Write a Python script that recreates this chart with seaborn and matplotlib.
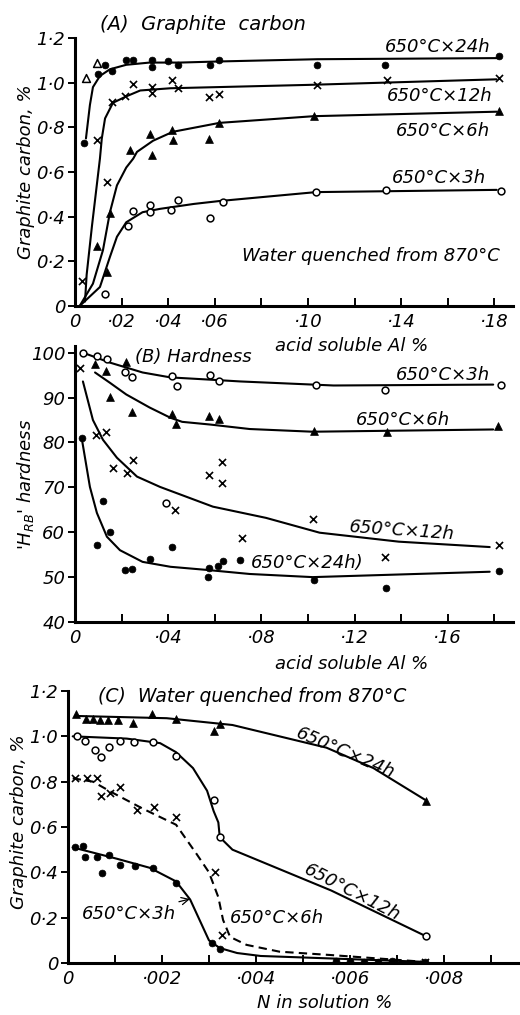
import matplotlib
matplotlib.use("Agg")
import matplotlib.pyplot as plt
import seaborn as sns

# ---------------- Panel A: graphite carbon vs acid soluble Al ----------------
a24_x = [0.004, 0.0097, 0.013, 0.016, 0.022, 0.025, 0.033, 0.033, 0.040, 0.044, 0.058, 0.062, 0.104, 0.133, 0.182]
a24_y = [0.73, 1.04, 1.077, 1.054, 1.10, 1.10, 1.10, 1.072, 1.095, 1.08, 1.08, 1.10, 1.077, 1.077, 1.118]
a24o_x = [0.0047, 0.0094]
a24o_y = [1.02, 1.086]
a12_x = [0.003, 0.0094, 0.0137, 0.0158, 0.0215, 0.0248, 0.033, 0.033, 0.0415, 0.044, 0.0576, 0.062, 0.104, 0.134, 0.182]
a12_y = [0.113, 0.742, 0.557, 0.914, 0.94, 0.995, 0.982, 0.955, 1.01, 0.977, 0.937, 0.95, 0.99, 1.01, 1.023]
a6_x = [0.0094, 0.0137, 0.015, 0.0236, 0.033, 0.032, 0.0415, 0.042, 0.0576, 0.062, 0.1026, 0.182]
a6_y = [0.267, 0.154, 0.416, 0.697, 0.674, 0.769, 0.787, 0.742, 0.747, 0.819, 0.851, 0.873]
a3_x = [0.0129, 0.0229, 0.0248, 0.032, 0.032, 0.041, 0.044, 0.058, 0.0635, 0.1035, 0.1335, 0.1828]
a3_y = [0.054, 0.357, 0.425, 0.452, 0.421, 0.43, 0.475, 0.394, 0.466, 0.511, 0.52, 0.516]

a24_cx = [0.0047, 0.0064, 0.0077, 0.0107, 0.015, 0.022, 0.032, 0.045, 0.062, 0.104, 0.182]
a24_cy = [0.75, 0.90, 0.98, 1.03, 1.06, 1.08, 1.09, 1.09, 1.095, 1.105, 1.11]
a12_cx = [0.0043, 0.005, 0.0073, 0.009, 0.0107, 0.0115, 0.0129, 0.0163, 0.0223, 0.028, 0.041, 0.10, 0.181]
a12_cy = [0.02, 0.14, 0.36, 0.51, 0.66, 0.75, 0.84, 0.91, 0.94, 0.965, 0.975, 0.99, 1.015]
a6_cx = [0.002, 0.0077, 0.012, 0.015, 0.018, 0.022, 0.025, 0.0266, 0.0335, 0.042, 0.062, 0.1026, 0.181]
a6_cy = [0.0, 0.10, 0.25, 0.42, 0.54, 0.62, 0.66, 0.69, 0.74, 0.78, 0.82, 0.85, 0.87]
a3_cx = [0.002, 0.0107, 0.015, 0.018, 0.022, 0.029, 0.0365, 0.051, 0.062, 0.1035, 0.181]
a3_cy = [0.0, 0.085, 0.22, 0.31, 0.375, 0.42, 0.435, 0.457, 0.47, 0.51, 0.52]

a_xticks = [0, 0.02, 0.04, 0.06, 0.08, 0.10, 0.12, 0.14, 0.16, 0.18]
a_xticklabels = ["0", "·02", "·04", "·06", "", "·10", "", "·14", "", "·18"]
c_yticks = [0, 0.2, 0.4, 0.6, 0.8, 1.0, 1.2]
c_yticklabels = ["0", "0·2", "0·4", "0·6", "0·8", "1·0", "1·2"]

# ---------------- Panel B: hardness vs acid soluble Al ----------------
b3_x = [0.0035, 0.0094, 0.0137, 0.0215, 0.0245, 0.0415, 0.0437, 0.058, 0.062, 0.1035, 0.133, 0.183, 0.039]
b3_y = [100.0, 99.2, 98.5, 95.6, 94.7, 94.9, 92.5, 95.1, 93.8, 92.7, 91.8, 92.9, 66.5]
b6_x = [0.0086, 0.0133, 0.022, 0.015, 0.0245, 0.0415, 0.0433, 0.0576, 0.062, 0.1026, 0.134, 0.1815]
b6_y = [97.4, 96.0, 98.0, 90.2, 86.7, 86.4, 84.2, 86.0, 85.3, 82.6, 82.4, 83.7]
b12_x = [0.0021, 0.009, 0.0133, 0.0163, 0.0223, 0.0249, 0.0576, 0.063, 0.063, 0.043, 0.0715, 0.102, 0.133, 0.182]
b12_y = [96.7, 81.7, 82.4, 74.4, 73.3, 76.2, 72.8, 71.0, 75.7, 65.0, 58.8, 63.0, 54.5, 57.2]
b24_x = [0.0028, 0.0093, 0.012, 0.015, 0.0215, 0.0244, 0.032, 0.0415, 0.057, 0.0576, 0.0615, 0.0636, 0.071, 0.1026, 0.1335, 0.182]
b24_y = [81.0, 57.2, 67.0, 60.0, 51.6, 51.8, 54.0, 56.7, 50.0, 52.0, 52.5, 53.6, 53.8, 49.4, 47.6, 51.4]

b3_cx = [0.0035, 0.015, 0.029, 0.041, 0.058, 0.071, 0.111, 0.1795]
b3_cy = [100.0, 97.8, 95.6, 94.5, 94.0, 93.6, 92.7, 92.9]
b6_cx = [0.0086, 0.015, 0.022, 0.032, 0.041, 0.046, 0.058, 0.075, 0.102, 0.1795]
b6_cy = [95.6, 93.3, 90.7, 87.8, 85.5, 84.6, 84.0, 83.0, 82.4, 82.9]
b12_cx = [0.0034, 0.0077, 0.012, 0.018, 0.0266, 0.0365, 0.0592, 0.082, 0.105, 0.139, 0.178]
b12_cy = [93.6, 85.0, 80.6, 76.6, 72.4, 70.1, 65.7, 63.2, 59.9, 57.9, 56.7]
b24_cx = [0.003, 0.0064, 0.0094, 0.0137, 0.0193, 0.029, 0.041, 0.0567, 0.075, 0.102, 0.178]
b24_cy = [80.6, 70.1, 64.3, 59.0, 56.0, 53.4, 52.3, 51.6, 50.7, 50.0, 51.2]

b_xticks = [0, 0.02, 0.04, 0.06, 0.08, 0.10, 0.12, 0.14, 0.16, 0.18]
b_xticklabels = ["0", "", "·04", "", "·08", "", "·12", "", "·16", ""]
b_yticks = [40, 50, 60, 70, 80, 90, 100]
b_yticklabels = ["40", "50", "60", "70", "80", "90", "100"]

# ---------------- Panel C: graphite carbon vs N in solution ----------------
c24_x = [0.00017, 0.00038, 0.00053, 0.00068, 0.00086, 0.00107, 0.00139, 0.00178, 0.0023, 0.0031, 0.00323, 0.00762]
c24_y = [1.10, 1.075, 1.075, 1.07, 1.07, 1.07, 1.057, 1.10, 1.075, 1.022, 1.053, 0.714]
c12_x = [0.0002, 0.00036, 0.00057, 0.00070, 0.00088, 0.0011, 0.0014, 0.0018, 0.0023, 0.0031, 0.00323, 0.00762]
c12_y = [1.0, 0.98, 0.94, 0.91, 0.955, 0.98, 0.975, 0.975, 0.915, 0.72, 0.555, 0.12]
c6_x = [0.00015, 0.0004, 0.00062, 0.0007, 0.0009, 0.0011, 0.00146, 0.00183, 0.0023, 0.00313, 0.00328, 0.0076]
c6_y = [0.815, 0.815, 0.815, 0.735, 0.75, 0.775, 0.675, 0.69, 0.645, 0.40, 0.125, 0.005]
c3_x = [0.00015, 0.00032, 0.00036, 0.00061, 0.00072, 0.00088, 0.0011, 0.00143, 0.00181, 0.0023, 0.00306, 0.00323,
        0.0057, 0.0060, 0.0063, 0.0066, 0.0069, 0.0076]
c3_y = [0.511, 0.515, 0.467, 0.467, 0.396, 0.476, 0.432, 0.427, 0.418, 0.352, 0.088, 0.062,
        0.01, 0.007, 0.005, 0.004, 0.008, 0.003]

c24_cx = [0.00015, 0.0021, 0.0035, 0.0043, 0.0055, 0.0065, 0.0076]
c24_cy = [1.09, 1.08, 1.05, 1.01, 0.95, 0.86, 0.72]
c12_cx = [0.0001, 0.00125, 0.00196, 0.0023, 0.00266, 0.00296, 0.0031, 0.0032, 0.00323, 0.0035, 0.0042, 0.0056, 0.0076]
c12_cy = [1.0, 0.99, 0.97, 0.93, 0.86, 0.76, 0.67, 0.62, 0.555, 0.50, 0.44, 0.32, 0.12]
c6_cx = [0.0001, 0.00053, 0.00096, 0.0016, 0.0023, 0.00274, 0.0030, 0.0032, 0.0033, 0.00345, 0.0038, 0.0045, 0.0056, 0.0076]
c6_cy = [0.815, 0.80, 0.75, 0.68, 0.61, 0.48, 0.40, 0.29, 0.19, 0.115, 0.08, 0.05, 0.035, 0.005]
c3_cx = [0.0001, 0.00104, 0.00174, 0.0023, 0.0026, 0.003, 0.00323, 0.0036, 0.0041, 0.0056, 0.0076]
c3_cy = [0.51, 0.46, 0.42, 0.36, 0.28, 0.10, 0.066, 0.044, 0.031, 0.02, 0.005]

c_xticks = [0, 0.001, 0.002, 0.003, 0.004, 0.005, 0.006, 0.007, 0.008, 0.009]
c_xticklabels = ["0", "", "·002", "", "·004", "", "·006", "", "·008", ""]

# ---------------- styling ----------------
sns.set_style("ticks")
plt.rcParams["font.family"] = ["DejaVu Sans"]
plt.rcParams["font.style"] = "italic"
plt.rcParams["mathtext.fontset"] = "dejavusans"
for key in ["text.color", "axes.labelcolor", "xtick.color", "ytick.color", "axes.edgecolor"]:
    plt.rcParams[key] = "black"

W, H = 520, 1015
fig = plt.figure(figsize=(W / 100, H / 100), dpi=100)
fig.patch.set_facecolor("white")


def axes_px(left, top, right, bottom):
    return fig.add_axes([left / W, 1 - bottom / H, (right - left) / W, (bottom - top) / H])


def fx(px, py):
    return px / W, 1 - py / H


LW = 1.5
FS = 13


def style_axes(ax, xticks, xlabels, yticks, ylabels):
    for s in ["top", "right"]:
        ax.spines[s].set_visible(False)
    for s in ["left", "bottom"]:
        ax.spines[s].set_linewidth(2.2)
        ax.spines[s].set_color("black")
    ax.set_xticks(xticks)
    ax.set_xticklabels(xlabels, fontsize=FS, style="italic", color="black")
    ax.set_yticks(yticks)
    ax.set_yticklabels(ylabels, fontsize=FS, style="italic", color="black")
    ax.tick_params(axis="x", direction="in", length=6, width=1.4, pad=5, colors="black")
    ax.tick_params(axis="y", direction="out", length=5, width=1.4, pad=2, colors="black")
    ax.set_facecolor("white")
    ax.set_xlabel("")
    ax.set_ylabel("")


def pts(ax, x, y, kind):
    if kind == "fc":
        sns.scatterplot(x=x, y=y, ax=ax, marker="o", s=24, color="black", edgecolor="black", linewidth=0.5, zorder=3)
    elif kind == "oc":
        sns.scatterplot(x=x, y=y, ax=ax, marker="o", s=24, color="white", edgecolor="black", linewidth=1.1, zorder=3)
    elif kind == "ft":
        sns.scatterplot(x=x, y=y, ax=ax, marker="^", s=32, color="black", edgecolor="black", linewidth=0.5, zorder=3)
    elif kind == "ot":
        sns.scatterplot(x=x, y=y, ax=ax, marker="^", s=32, color="white", edgecolor="black", linewidth=1.1, zorder=3)
    elif kind == "x":
        sns.scatterplot(x=x, y=y, ax=ax, marker="x", s=26, color="black", linewidth=1.2, zorder=3)


def curve(ax, x, y, dashed=False):
    kw = dict(x=x, y=y, ax=ax, sort=False, estimator=None, color="black", linewidth=LW, zorder=2)
    if dashed:
        sns.lineplot(**kw, linestyle=(0, (4, 2.5)))
    else:
        sns.lineplot(**kw)


# ---------------- Panel A ----------------
axA = axes_px(75, 38, 513, 306)
curve(axA, a24_cx, a24_cy)
curve(axA, a12_cx, a12_cy)
curve(axA, a6_cx, a6_cy)
curve(axA, a3_cx, a3_cy)
pts(axA, a24_x, a24_y, "fc")
pts(axA, a24o_x, a24o_y, "ot")
pts(axA, a12_x, a12_y, "x")
pts(axA, a6_x, a6_y, "ft")
pts(axA, a3_x, a3_y, "oc")
axA.set_xlim(0, 0.188)
axA.set_ylim(0, 1.2)
style_axes(axA, a_xticks, a_xticklabels, c_yticks, c_yticklabels)
axA.set_ylabel("Graphite carbon, %", fontsize=FS, color="black")
axA.yaxis.set_label_coords(-0.092, 0.5)

fig.text(*fx(100, 25), "(A)  Graphite  carbon", fontsize=14, va="center", ha="left")
fig.text(*fx(490, 47), "650°C×24h", fontsize=FS, va="center", ha="right")
fig.text(*fx(492, 96), "650°C×12h", fontsize=FS, va="center", ha="right")
fig.text(*fx(490, 131), "650°C×6h", fontsize=FS, va="center", ha="right")
fig.text(*fx(486, 178), "650°C×3h", fontsize=FS, va="center", ha="right")
fig.text(*fx(500, 256), "Water quenched from 870°C", fontsize=FS, va="center", ha="right")
fig.text(*fx(352, 346), "acid soluble Al %", fontsize=FS, va="center", ha="center")

# ---------------- Panel B ----------------
axB = axes_px(75, 346, 513, 622)
curve(axB, b3_cx, b3_cy)
curve(axB, b6_cx, b6_cy)
curve(axB, b12_cx, b12_cy)
curve(axB, b24_cx, b24_cy)
pts(axB, b3_x, b3_y, "oc")
pts(axB, b6_x, b6_y, "ft")
pts(axB, b12_x, b12_y, "x")
pts(axB, b24_x, b24_y, "fc")
axB.set_xlim(0, 0.188)
axB.set_ylim(40, 101.5)
style_axes(axB, b_xticks, b_xticklabels, b_yticks, b_yticklabels)
axB.set_ylabel("'$H_{RB}$' hardness", fontsize=FS, color="black")
axB.yaxis.set_label_coords(-0.09, 0.5)

fig.text(*fx(135, 357), "(B) Hardness", fontsize=FS, va="center", ha="left")
fig.text(*fx(490, 375), "650°C×3h", fontsize=FS, va="center", ha="right")
fig.text(*fx(450, 420), "650°C×6h", fontsize=FS, va="center", ha="right")
fig.text(*fx(455, 531), "650°C×12h", fontsize=FS, va="center", ha="right", rotation=-4)
fig.text(*fx(363, 563), "650°C×24h)", fontsize=FS, va="center", ha="right")
fig.text(*fx(352, 664), "acid soluble Al %", fontsize=FS, va="center", ha="center")

# ---------------- Panel C ----------------
axC = axes_px(68, 691, 520, 963)
curve(axC, c24_cx, c24_cy)
curve(axC, c12_cx, c12_cy)
curve(axC, c6_cx, c6_cy, dashed=True)
curve(axC, c3_cx, c3_cy)
pts(axC, c24_x, c24_y, "ft")
pts(axC, c12_x, c12_y, "oc")
pts(axC, c6_x, c6_y, "x")
pts(axC, c3_x, c3_y, "fc")
axC.set_xlim(0, 0.00962)
axC.set_ylim(0, 1.2)
style_axes(axC, c_xticks, c_xticklabels, c_yticks, c_yticklabels)
axC.set_ylabel("Graphite carbon, %", fontsize=FS, color="black")
axC.yaxis.set_label_coords(-0.088, 0.52)

fig.text(*fx(98, 697), "(C)  Water quenched from 870°C", fontsize=13.5, va="center", ha="left")
fig.text(*fx(345, 753), "650°C×24h", fontsize=FS, va="center", ha="center", rotation=-23)
fig.text(*fx(352, 893), "650°C×12h", fontsize=FS, va="center", ha="center", rotation=-27)
fig.text(*fx(230, 918), "650°C×6h", fontsize=FS, va="center", ha="left")
axC.annotate("650°C×3h", xy=fx(190, 899), xycoords="figure fraction",
             xytext=fx(82, 914), textcoords="figure fraction", fontsize=FS, va="center", ha="left",
             color="black",
             arrowprops=dict(arrowstyle="->", color="black", lw=0.9, shrinkA=0, shrinkB=0))
fig.text(*fx(325, 1003), "N in solution %", fontsize=FS, va="center", ha="center")

fig.savefig("out.png", dpi=100, facecolor="white")
